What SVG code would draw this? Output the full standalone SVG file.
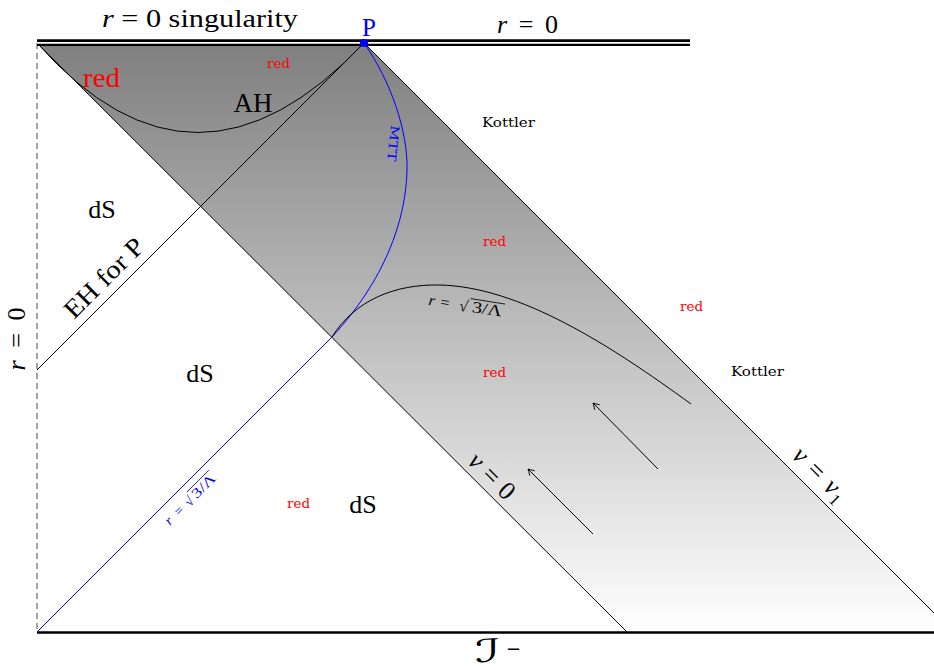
<svg xmlns="http://www.w3.org/2000/svg" width="934" height="670" viewBox="0 0 934 670">
<defs>
<linearGradient id="shade" x1="0" y1="43" x2="0" y2="632" gradientUnits="userSpaceOnUse">
<stop offset="0" stop-color="#7f7f7f"/>
<stop offset="1" stop-color="#ffffff"/>
</linearGradient>
<marker id="arr" viewBox="-7 -5 8 10" refX="0" refY="0" markerWidth="8" markerHeight="10" markerUnits="userSpaceOnUse" orient="auto">
<path d="M-6,-3.5 Q-2,-1 0,0 Q-2,1 -6,3.5" fill="none" stroke="#000" stroke-width="0.9"/>
</marker>
</defs>
<style>
text{font-family:"Liberation Serif","DejaVu Serif",serif}
.big{font-size:26px}
.sm{font-size:12px;font-family:"DejaVu Serif","Liberation Serif",serif}
.redt{fill:#ff0000}
.bluet{fill:#0000ff}
.it{font-style:italic}
.ln{stroke:#000;stroke-width:1;fill:none}
.bl{stroke:#0000ff;stroke-width:1;fill:none}
</style>
<rect x="0" y="0" width="934" height="670" fill="#ffffff"/>

<g id="region-shaded">
<path d="M37,43 L364,43 L934,613 L934,632 L627,632 Z" fill="url(#shade)"/>
</g>

<g id="connectors">
<path class="ln" d="M37,43 L627,632"/>
<path class="ln" d="M364,43 L934,613"/>
<path class="ln" d="M37,370 L364,43"/>
<path class="ln" d="M37,43 Q195,222 364,43"/>
<path class="bl" d="M37,632 L331.8,337.2"/>
<path class="bl" d="M364,43 C390,80 408,130 407,170 C406,220 385,280 331.8,337.2"/>
<path class="ln" d="M331.8,337.2 C355,300 395,284 440,285 C520,287 610,345 691,404"/>
<path class="ln" d="M658,469 L593,403" marker-end="url(#arr)"/>
<path class="ln" d="M593,534 L528,469" marker-end="url(#arr)"/>
<path d="M37,43 L37,632" stroke="#666" stroke-width="1.2" stroke-dasharray="6,4" fill="none"/>
<path d="M37,632.5 L934,632.5" stroke="#000" stroke-width="2.6" fill="none"/>
<path d="M37,42.65 L690,42.65" stroke="#000" stroke-width="6.7" fill="none"/>
<path d="M37,42.85 L690,42.85" stroke="#fff" stroke-width="1.6" fill="none"/>
</g>

<g id="P">
<circle cx="364" cy="43" r="4" fill="#0000ff"/>
<text class="bluet" font-size="25" x="369" y="36" text-anchor="middle">P</text>
</g>

<g id="top-labels">
<text class="big" x="102" y="27" textLength="196" lengthAdjust="spacingAndGlyphs"><tspan class="it">r</tspan> = 0 singularity</text>
<text class="big" x="497" y="33" textLength="61"><tspan class="it">r</tspan> = 0</text>
<text class="big" transform="translate(25,339) rotate(-90)" text-anchor="middle" textLength="63"><tspan class="it">r</tspan> = 0</text>
</g>

<g id="AH">
<text font-size="27" x="253" y="112" text-anchor="middle">AH</text>
</g>
<g id="EH">
<text class="big" transform="translate(110,284) rotate(-45)" text-anchor="middle" textLength="102" lengthAdjust="spacingAndGlyphs">EH for P</text>
</g>
<g id="MTT">
<text class="bluet sm" font-size="11" transform="translate(389,143) rotate(96)" text-anchor="middle" textLength="36" lengthAdjust="spacingAndGlyphs">MTT</text>
</g>

<g id="dS-labels">
<text class="big" x="102" y="218" text-anchor="middle">dS</text>
<text class="big" x="200" y="382" text-anchor="middle">dS</text>
<text class="big" x="363" y="513" text-anchor="middle">dS</text>
</g>

<g id="Kottler-labels">
<text class="sm" x="482" y="127" textLength="53" lengthAdjust="spacingAndGlyphs">Kottler</text>
<text class="sm" x="731" y="376" textLength="53" lengthAdjust="spacingAndGlyphs">Kottler</text>
</g>

<g id="red-labels">
<text class="redt" font-size="28" x="83" y="87" textLength="37" lengthAdjust="spacingAndGlyphs">red</text>
<text class="redt sm" x="267" y="68" textLength="23" lengthAdjust="spacingAndGlyphs">red</text>
<text class="redt sm" x="483" y="246" textLength="23" lengthAdjust="spacingAndGlyphs">red</text>
<text class="redt sm" x="680" y="311" textLength="23" lengthAdjust="spacingAndGlyphs">red</text>
<text class="redt sm" x="483" y="377" textLength="23" lengthAdjust="spacingAndGlyphs">red</text>
<text class="redt sm" x="287" y="508" textLength="23" lengthAdjust="spacingAndGlyphs">red</text>
</g>

<g id="rlambda-label" transform="translate(428,305) rotate(9)">
<text font-size="16" x="0" y="0" class="it">r</text>
<text font-size="16" x="12" y="0">=</text>
<text font-size="16" x="31" y="1">√</text>
<text font-size="16" x="44" y="0" textLength="30" lengthAdjust="spacingAndGlyphs">3/Λ</text>
<line x1="41" y1="-13" x2="76" y2="-13" stroke="#000" stroke-width="0.8"/>
</g>

<g id="rlambda-blue-label" transform="translate(170,526) rotate(-45)">
<text class="bluet it" font-size="14" x="0" y="0">r</text>
<text class="bluet" font-size="14" x="13" y="0">=</text>
<text class="bluet" font-size="14" x="27" y="1">√</text>
<text class="bluet" font-size="14" x="38" y="0" textLength="28" lengthAdjust="spacingAndGlyphs">3/Λ</text>
<line x1="36" y1="-12" x2="67" y2="-12" stroke="#0000ff" stroke-width="0.8"/>
</g>

<g id="v0-label">
<text class="big" transform="translate(486,482) rotate(45)" text-anchor="middle" textLength="55"><tspan class="it">v</tspan> = 0</text>
</g>
<g id="v1-label">
<text class="big" transform="translate(814,480) rotate(45)" text-anchor="middle" textLength="66"><tspan class="it">v</tspan> = <tspan class="it">v</tspan><tspan font-size="17" dy="5">1</tspan></text>
</g>

<g id="scri-minus">
<text font-size="32" x="475" y="662" textLength="25" lengthAdjust="spacingAndGlyphs" style="font-family:'DejaVu Serif','DejaVu Sans',serif;font-style:italic">ℐ</text>
<text font-size="18" x="506" y="655" style="font-family:'DejaVu Sans',sans-serif">−</text>
</g>
</svg>
